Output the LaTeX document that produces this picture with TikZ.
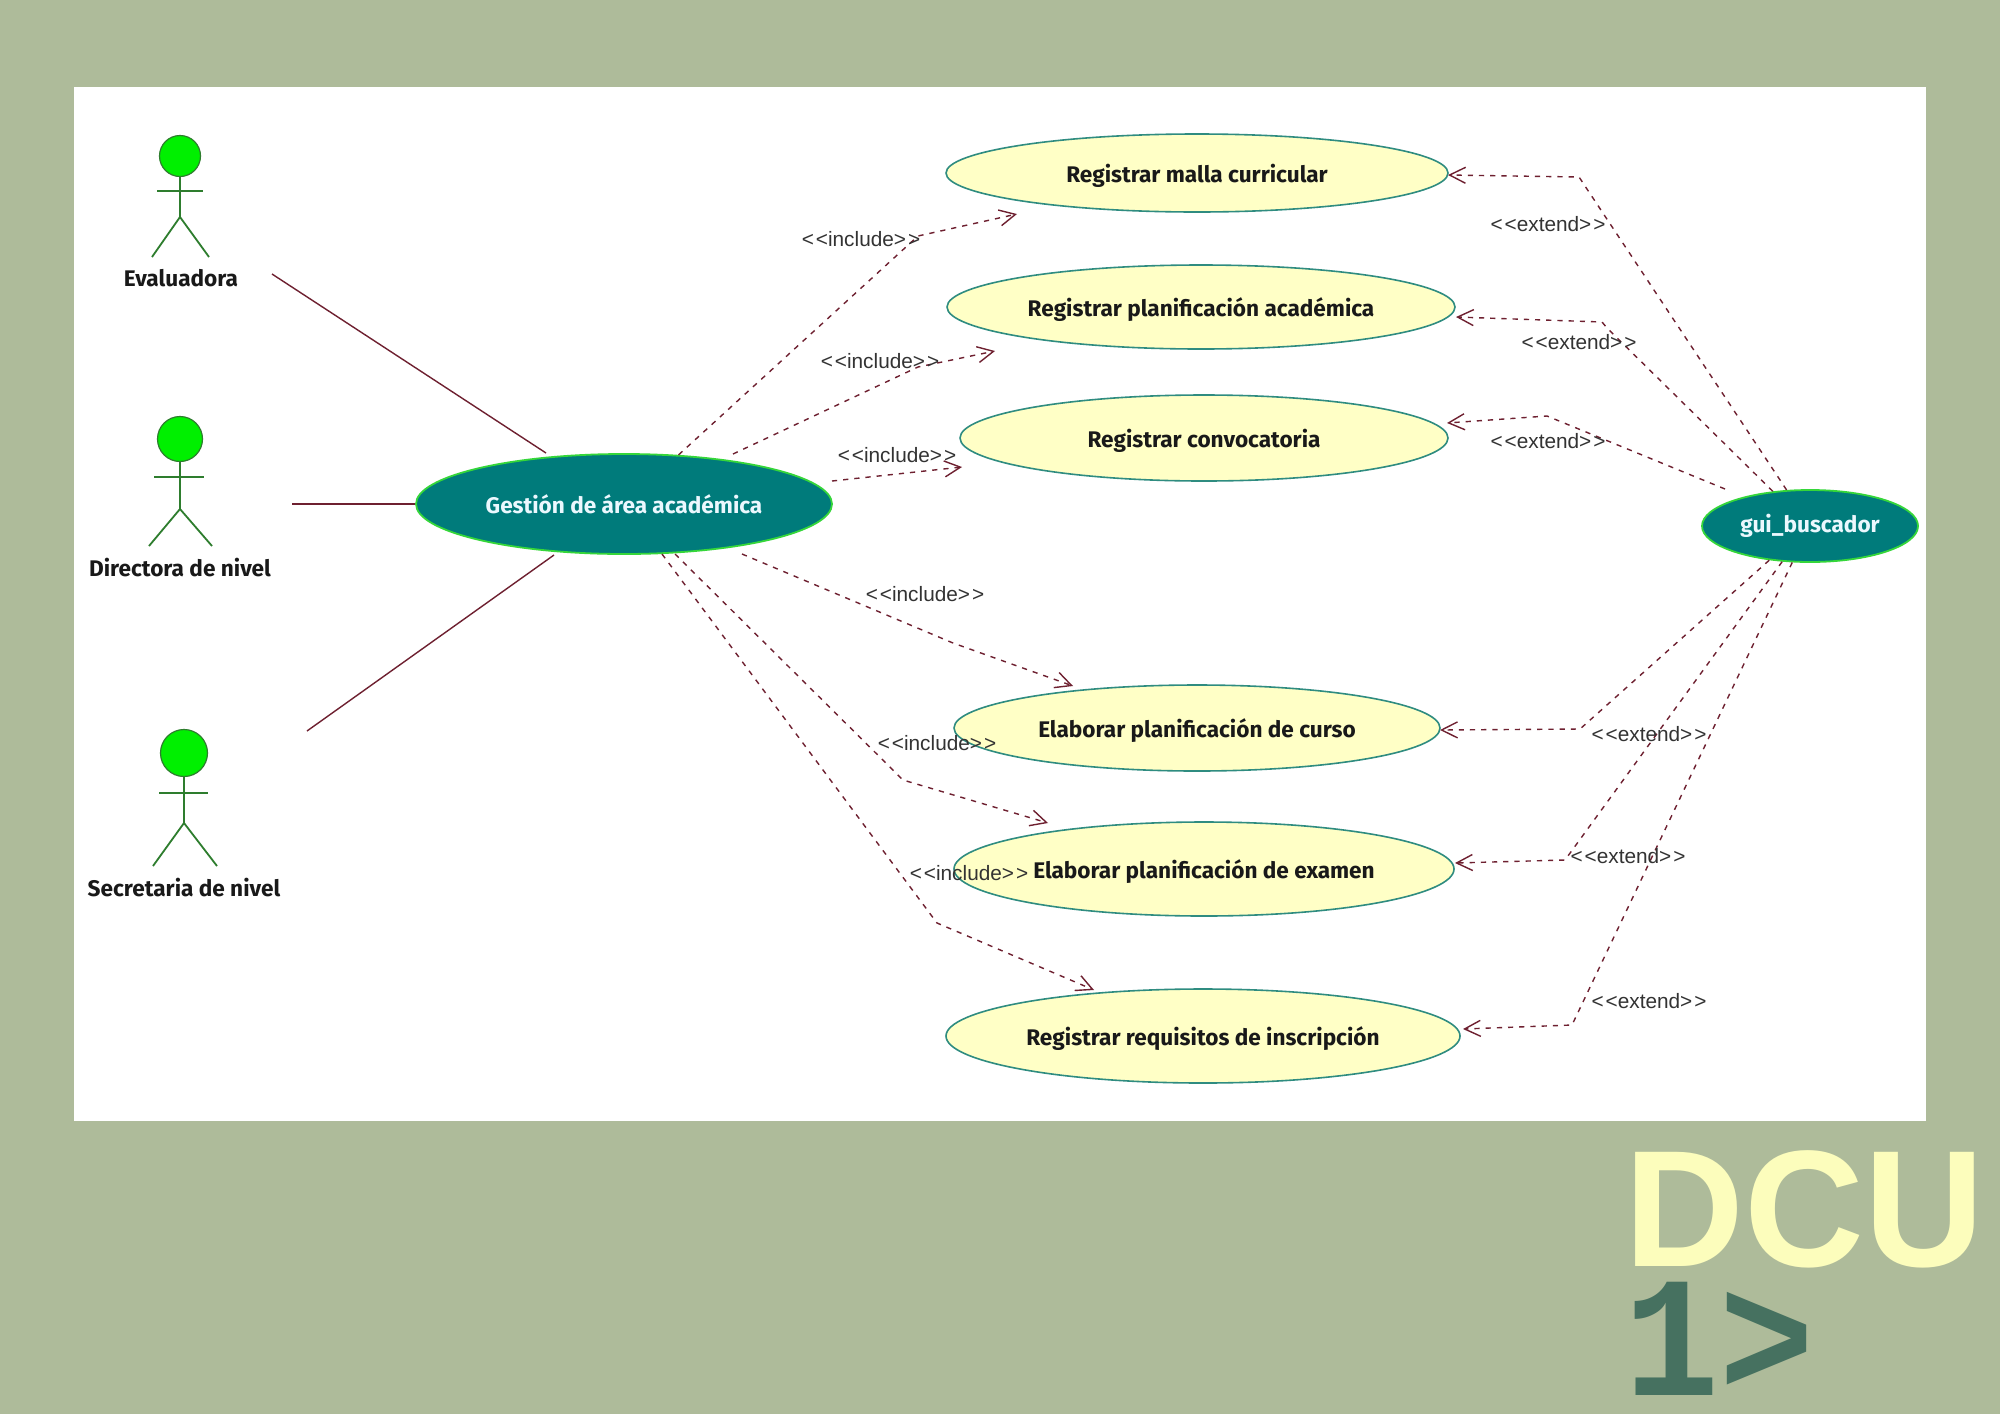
\documentclass[tikz,border=0pt]{standalone}
\usepackage{fontspec}
\usetikzlibrary{shapes.geometric,arrows.meta}
\newfontfamily\boldfam{Fira Sans}
\newfontfamily\thinfam{Liberation Sans}
\newfontfamily\logofam{Liberation Sans}
\newfontfamily\monofam[FakeStretch=0.92]{Liberation Mono}
\definecolor{slidebg}{HTML}{AEBB9A}
\definecolor{tealfill}{HTML}{007B7B}
\definecolor{limeline}{HTML}{35D63A}
\definecolor{headgreen}{HTML}{00F000}
\definecolor{stickgreen}{HTML}{2E7D2E}
\definecolor{creamfill}{HTML}{FFFFC6}
\definecolor{tealline}{HTML}{2F8C80}
\definecolor{maroonline}{HTML}{6E2030}
\definecolor{logocream}{HTML}{FCFDBC}
\definecolor{logogreen}{HTML}{467160}
\tikzset{
  actorhead/.style={circle,draw=stickgreen,fill=headgreen,inner sep=0pt,line width=0.6pt},
  stickline/.style={draw=stickgreen,line width=0.9pt},
  actorname/.style={font=\boldfam\bfseries\fontsize{11.3}{13}\selectfont,text=black!90},
  usecase/.style={ellipse,draw=tealline,fill=creamfill,inner sep=0pt,line width=0.8pt,
    text height=9.5pt,text depth=0pt,
    font=\boldfam\bfseries\fontsize{11.3}{13}\selectfont,text=black!90},
  tealcase/.style={ellipse,draw=limeline,fill=tealfill,inner sep=0pt,line width=0.9pt,
    font=\boldfam\bfseries\fontsize{11.3}{13}\selectfont,text=cyan!8},
  assoc/.style={draw=maroonline,line width=0.7pt},
  depline/.style={draw=maroonline,line width=0.7pt,dash pattern=on 2.6pt off 3pt,
    -{Straight Barb[length=8pt,width=8pt]}},
  deplabel/.style={font=\thinfam\fontsize{10.4}{12}\selectfont,text=black!80,inner sep=0pt}
}
\begin{document}
\begin{tikzpicture}[x=0.5pt,y=-0.5pt]
    % Page
    \fill[slidebg] (0,0) rectangle (2000,1414);
    \useasboundingbox (0,0) rectangle (2000,1414);
    \fill[white] (74,87) rectangle (1926,1121);
    % Evaluadora
    \node[actorhead,minimum size=20.5pt] (headA) at (180,156) {};
    \coordinate (hipA) at (180,217);
    \draw[stickline] (headA) -- (hipA) -- (152,257);
    \draw[stickline] (hipA) -- (209,257);
    \draw[stickline] (157,191) -- (203,191);
    \node[actorname] (nameA) at (181,278) {Evaluadora};
    % Directora de nivel
    \node[actorhead,minimum size=22.5pt] (headB) at (180,439) {};
    \coordinate (hipB) at (180,509);
    \draw[stickline] (headB) -- (hipB) -- (149,546);
    \draw[stickline] (hipB) -- (212,546);
    \draw[stickline] (154,477) -- (204,477);
    \node[actorname] (nameB) at (180,568) {Directora de nivel};
    % Secretaria de nivel
    \node[actorhead,minimum size=23.5pt] (headC) at (184,753) {};
    \coordinate (hipC) at (184,823);
    \draw[stickline] (headC) -- (hipC) -- (153,866);
    \draw[stickline] (hipC) -- (217,866);
    \draw[stickline] (159,793) -- (208,793);
    \node[actorname] (nameC) at (184,888) {Secretaria de nivel};
    % Use cases
    \node[tealcase,minimum width=208pt,minimum height=50pt] (mainuc) at (624,504) {Gestión de área académica};
    \node[tealcase,minimum width=108pt,minimum height=36pt] (guiuc) at (1810,526) {gui\_buscador};
    \node[usecase,minimum width=251pt,minimum height=39pt] (ucA) at (1197,173) {Registrar malla curricular};
    \node[usecase,minimum width=254pt,minimum height=42pt] (ucB) at (1201,307) {Registrar planificación académica};
    \node[usecase,minimum width=244pt,minimum height=43pt] (ucC) at (1204,438) {Registrar convocatoria};
    \node[usecase,minimum width=243pt,minimum height=43pt] (ucD) at (1197,728) {Elaborar planificación de curso};
    \node[usecase,minimum width=250pt,minimum height=47pt] (ucE) at (1204,869) {Elaborar planificación de examen};
    \node[usecase,minimum width=257pt,minimum height=47pt] (ucF) at (1203,1036) {Registrar requisitos de inscripción};
    % Actor lines
    \coordinate (endA) at (272,274);
    \coordinate (endB) at (292,504);
    \coordinate (endC) at (307,731);
    \coordinate (mainA) at (546,453);
    \coordinate (mainC) at (554,555);
    \draw[assoc] (endA) -- (mainA);
    \draw[assoc] (endB) -- (mainuc.west);
    \draw[assoc] (endC) -- (mainC);
    % Include lines
    \coordinate (bendA) at (918,236);
    \coordinate (tipA) at (1017,214);
    \draw[depline] (mainuc.42) -- (bendA) -- (tipA);
    \coordinate (startB) at (733,454);
    \coordinate (bendB) at (918,367);
    \coordinate (tipB) at (995,351);
    \draw[depline] (startB) -- (bendB) -- (tipB);
    \coordinate (startC) at (832,481);
    \coordinate (tipC) at (962,467);
    \draw[depline] (startC) -- (tipC);
    \coordinate (startD) at (742,554);
    \coordinate (bendD) at (953,643);
    \coordinate (tipD) at (1073,686);
    \draw[depline] (startD) -- (bendD) -- (tipD);
    \coordinate (startE) at (675,554);
    \coordinate (bendE) at (903,780);
    \coordinate (tipE) at (1048,823);
    \draw[depline] (startE) -- (bendE) -- (tipE);
    \coordinate (startF) at (662,554);
    \coordinate (bendF) at (937,923);
    \coordinate (tipF) at (1094,990);
    \draw[depline] (startF) -- (bendF) -- (tipF);
    % Extend lines
    \coordinate (elbowA) at (1579,177);
    \coordinate (arrowA) at (1448,175);
    \draw[depline] (guiuc.123) -- (elbowA) -- (arrowA);
    \coordinate (elbowB) at (1607,328);
    \coordinate (elbowBB) at (1602,322);
    \coordinate (arrowB) at (1456,317);
    \draw[depline] (guiuc.137) -- (elbowB) -- (elbowBB) -- (arrowB);
    \coordinate (startG) at (1725,489);
    \coordinate (elbowC) at (1547,416);
    \coordinate (arrowC) at (1447,423);
    \draw[depline] (startG) -- (elbowC) -- (arrowC);
    \coordinate (elbowD) at (1580,729);
    \coordinate (arrowD) at (1440,730);
    \draw[depline] (guiuc.220) -- (elbowD) -- (arrowD);
    \coordinate (elbowE) at (1565,860);
    \coordinate (arrowE) at (1455,863);
    \draw[depline] (guiuc.232) -- (elbowE) -- (arrowE);
    \coordinate (elbowF) at (1572,1025);
    \coordinate (arrowF) at (1463,1029);
    \draw[depline] (guiuc.244) -- (elbowF) -- (arrowF);
    % Include labels
    \node[deplabel] (inclA) at (861,239) {<\kern1pt<include>\kern1pt>};
    \node[deplabel] (inclB) at (880,361) {<\kern1pt<include>\kern1pt>};
    \node[deplabel] (inclC) at (897,455) {<\kern1pt<include>\kern1pt>};
    \node[deplabel] (inclD) at (925,594) {<\kern1pt<include>\kern1pt>};
    \node[deplabel] (inclE) at (937,743) {<\kern1pt<include>\kern1pt>};
    \node[deplabel] (inclF) at (969,873) {<\kern1pt<include>\kern1pt>};
    % Extend labels
    \node[deplabel] (extA) at (1548,224) {<\kern1pt<extend>\kern1pt>};
    \node[deplabel] (extB) at (1579,342) {<\kern1pt<extend>\kern1pt>};
    \node[deplabel] (extC) at (1548,441) {<\kern1pt<extend>\kern1pt>};
    \node[deplabel] (extD) at (1649,734) {<\kern1pt<extend>\kern1pt>};
    \node[deplabel] (extE) at (1628,856) {<\kern1pt<extend>\kern1pt>};
    \node[deplabel] (extF) at (1649,1001) {<\kern1pt<extend>\kern1pt>};
    % Logo
    \node[anchor=base west,inner sep=0pt,text height=58pt,text depth=0pt,text=logocream,font=\logofam\bfseries\fontsize{83}{84}\selectfont] (logotop) at (1624,1266) {DCU};
    \node[anchor=base west,inner sep=0pt,text height=58pt,text depth=0pt,text=logogreen,font=\monofam\bfseries\fontsize{86}{86}\selectfont] (logolow) at (1624,1395) {1>};
\end{tikzpicture}
\end{document}
